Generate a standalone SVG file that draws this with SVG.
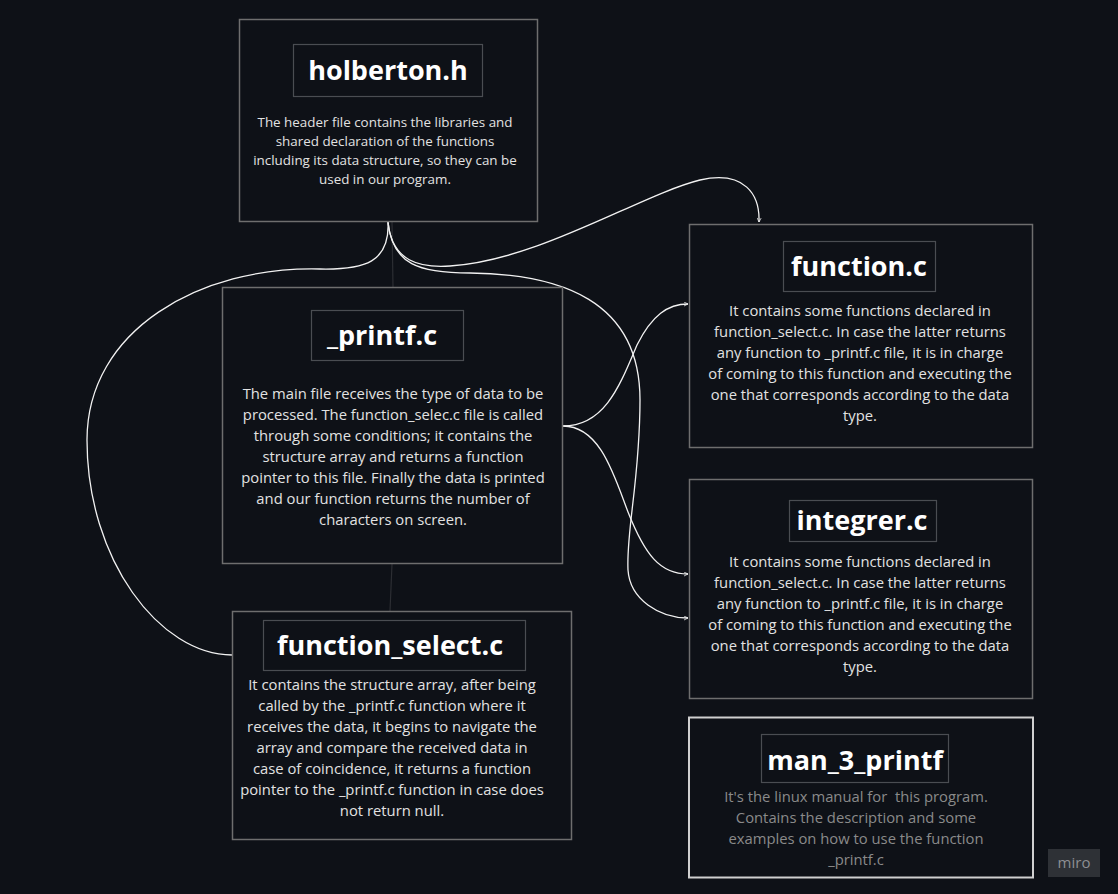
<svg xmlns="http://www.w3.org/2000/svg" width="1118" height="894" viewBox="0 0 1118 894">
<defs>
<style>
.bg{fill:#0e1117}
.box{fill:#0e1117;stroke:#6e6e6e;stroke-width:1.5}
.tbox{fill:#0e1117;stroke:#4a4d52;stroke-width:1.2}
.title{font-family:"Open Sans","Noto Sans",sans-serif;font-weight:700;font-size:27px;fill:#ffffff;text-anchor:middle}
.desc{font-family:"Open Sans","Noto Sans",sans-serif;font-size:14.8px;fill:#e2e2e2;text-anchor:middle}
.small{font-size:13.4px}
.gray{fill:#8a8a8a}
.conn{fill:none;stroke:#f2f2f2;stroke-width:1.3}
.faint{fill:none;stroke:#2c2e33;stroke-width:1.2}
</style>
<marker id="arr" viewBox="0 0 10 10" refX="9" refY="5" markerWidth="5" markerHeight="5" orient="auto" markerUnits="userSpaceOnUse">
<path d="M1,1 L9,5 L1,9" fill="none" stroke="#f2f2f2" stroke-width="1.5"/>
</marker>
</defs>
<rect class="bg" x="0" y="0" width="1118" height="894"/>

<g id="connectors">
<path class="faint" d="M392,222 L393,287"/>
<path class="faint" d="M392,564 L390,611"/>
<path class="conn" d="M388,222 C390,262 365,270 320,269 C200,266 87,330 87,440 C87,560 160,655 232,655"/>
<path class="conn" d="M388,222 C392,262 420,268 450,266 C540,260 640,195 700,180 C745,170 760,195 759,222" marker-end="url(#arr)"/>
<path class="conn" d="M388,222 C392,265 420,273 470,273 C560,274 640,300 640,400 C640,480 626,530 628,570 C630,600 660,618 688,618" marker-end="url(#arr)"/>
<path class="conn" d="M563,426 C605,426 620,385 637,345 C652,315 668,304 688,304" marker-end="url(#arr)"/>
<path class="conn" d="M563,426 C600,426 614,475 628,512 C645,555 660,574 688,574" marker-end="url(#arr)"/>
</g>

<g id="holberton">
<rect class="box" x="239.5" y="19.5" width="298" height="202"/>
<rect class="tbox" x="293.5" y="44.5" width="189" height="52"/>
<text class="title" x="388" y="80">holberton.h</text>
<text class="desc small" x="385"><tspan x="385" y="127">The header file contains the libraries and</tspan><tspan x="385" y="146">shared declaration of the functions</tspan><tspan x="385" y="165">including its data structure, so they can be</tspan><tspan x="385" y="184">used in our program.</tspan></text>
</g>

<g id="printf">
<rect class="box" x="222.5" y="287.5" width="340" height="276"/>
<rect class="tbox" x="311.5" y="310.5" width="152" height="50"/>
<text class="title" x="382" y="345">_printf.c</text>
<text class="desc" x="393"><tspan x="393" y="399">The main file receives the type of data to be</tspan><tspan x="393" y="420">processed. The function_selec.c file is called</tspan><tspan x="393" y="441">through some conditions; it contains the</tspan><tspan x="393" y="462">structure array and returns a function</tspan><tspan x="393" y="483">pointer to this file. Finally the data is printed</tspan><tspan x="393" y="504">and our function returns the number of</tspan><tspan x="393" y="525">characters on screen.</tspan></text>
</g>

<g id="function_select">
<rect class="box" x="232.5" y="611.5" width="339" height="228"/>
<rect class="tbox" x="263.5" y="620.5" width="262" height="50"/>
<text class="title" x="390" y="655">function_select.c</text>
<text class="desc" x="392"><tspan x="392" y="690">It contains the structure array, after being</tspan><tspan x="392" y="711">called by the _printf.c function where it</tspan><tspan x="392" y="732">receives the data, it begins to navigate the</tspan><tspan x="392" y="753">array and compare the received data in</tspan><tspan x="392" y="774">case of coincidence, it returns a function</tspan><tspan x="392" y="795">pointer to the _printf.c function in case does</tspan><tspan x="392" y="816">not return null.</tspan></text>
</g>

<g id="function_c">
<rect class="box" x="689.5" y="224.5" width="343" height="223"/>
<rect class="tbox" x="783.5" y="241.5" width="152" height="50"/>
<text class="title" x="859" y="276">function.c</text>
<text class="desc" x="860"><tspan x="860" y="316">It contains some functions declared in</tspan><tspan x="860" y="337">function_select.c. In case the latter returns</tspan><tspan x="860" y="358">any function to _printf.c file, it is in charge</tspan><tspan x="860" y="379">of coming to this function and executing the</tspan><tspan x="860" y="400">one that corresponds according to the data</tspan><tspan x="860" y="421">type.</tspan></text>
</g>

<g id="integrer">
<rect class="box" x="689.5" y="479.5" width="343" height="219"/>
<rect class="tbox" x="789.5" y="500.5" width="147" height="41"/>
<text class="title" x="862" y="530">integrer.c</text>
<text class="desc" x="860"><tspan x="860" y="567">It contains some functions declared in</tspan><tspan x="860" y="588">function_select.c. In case the latter returns</tspan><tspan x="860" y="609">any function to _printf.c file, it is in charge</tspan><tspan x="860" y="630">of coming to this function and executing the</tspan><tspan x="860" y="651">one that corresponds according to the data</tspan><tspan x="860" y="672">type.</tspan></text>
</g>

<g id="man_3_printf">
<rect x="689" y="717.5" width="344" height="160" fill="#0e1117" stroke="#d0d0d0" stroke-width="2"/>
<rect class="tbox" x="761.5" y="734.5" width="187" height="48"/>
<text class="title" x="855" y="770">man_3_printf</text>
<text class="desc gray" x="856"><tspan x="856" y="802">It's the linux manual for&#160; this program.</tspan><tspan x="856" y="823">Contains the description and some</tspan><tspan x="856" y="844">examples on how to use the function</tspan><tspan x="856" y="865">_printf.c</tspan></text>
</g>

<g id="miro">
<rect x="1048" y="849" width="52" height="28" fill="#2e3136"/>
<text x="1074" y="868" font-family="'Open Sans','Noto Sans',sans-serif" font-size="15" fill="#8c8e92" text-anchor="middle">miro</text>
</g>
</svg>
